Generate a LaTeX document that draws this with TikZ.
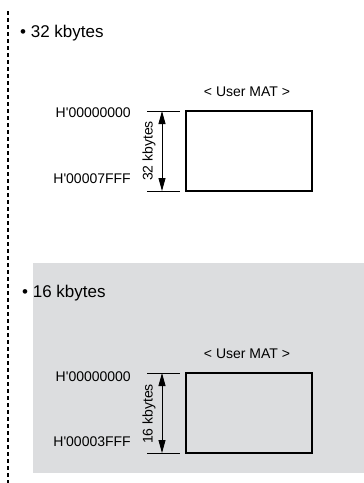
\documentclass[tikz,border=0pt]{standalone}
\usepackage{fontspec}
\setmainfont{Liberation Sans}
\usetikzlibrary{arrows.meta,positioning}
\definecolor{panelgray}{RGB}{220, 221, 223}

\tikzset{
    heading/.style={anchor=west, inner sep=0pt, font=\fontsize{17}{19}\selectfont},
    addr/.style={anchor=east, inner sep=0pt, font=\fontsize{14}{16}\selectfont},
    sizelbl/.style={rotate=90, inner sep=0pt, font=\fontsize{14}{16}\selectfont},
    mattitle/.style={inner sep=0pt, font=\fontsize{14}{16}\selectfont},
    matbox/.style={draw, line width=1.1pt, minimum width=126pt, minimum height=80pt, inner sep=0pt},
    tick/.style={line width=0.8pt},
}

\begin{document}
\begin{tikzpicture}[x=1pt, y=-1pt, >={Triangle[length=13pt,width=7pt]}]
        \useasboundingbox (0,0) rectangle (364,483);
        % Gray panel behind the 16 kbytes part
        \fill[panelgray] (33,263) rectangle (364,473);
        % Dashed margin line
        \draw[line width=1.2pt, dash pattern=on 4pt off 3pt] (8,11) -- (8,483);

        % 32 kbytes
        \node[heading] (hd32) at (20,33) {\textbullet\ 32 kbytes};
        \node[mattitle] (ut32) at (247,92) {< User MAT >};
        \node[matbox] (mat32) at (249,151) {};
        \coordinate (tk32a) at (147,111);
        \coordinate (tk32b) at (147,191);
        \draw[tick] (tk32a) -- ++(33,0);
        \draw[tick] (tk32b) -- ++(33,0);
        \coordinate (ar32a) at (162,111);
        \coordinate (ar32b) at (162,191);
        \draw[<->, line width=0.8pt] (ar32a) -- (ar32b);
        \node[sizelbl] (sz32) at (149,151) {32 kbytes};
        \node[addr] (lo32) at (131,113) {H\textquotesingle 00000000};
        \node[addr] (hi32) at (131,179) {H\textquotesingle 00007FFF};

        % 16 kbytes
        \node[heading] (hd16) at (22,293) {\textbullet\ 16 kbytes};
        \node[mattitle] (ut16) at (247,354) {< User MAT >};
        \node[matbox] (mat16) at (249,413) {};
        \coordinate (tk16a) at (147,373);
        \coordinate (tk16b) at (147,453);
        \draw[tick] (tk16a) -- ++(33,0);
        \draw[tick] (tk16b) -- ++(33,0);
        \coordinate (ar16a) at (162,373);
        \coordinate (ar16b) at (162,453);
        \draw[<->, line width=0.8pt] (ar16a) -- (ar16b);
        \node[sizelbl] (sz16) at (149,414) {16 kbytes};
        \node[addr] (lo16) at (131,377) {H\textquotesingle 00000000};
        \node[addr] (hi16) at (131,442) {H\textquotesingle 00003FFF};
\end{tikzpicture}
\end{document}
